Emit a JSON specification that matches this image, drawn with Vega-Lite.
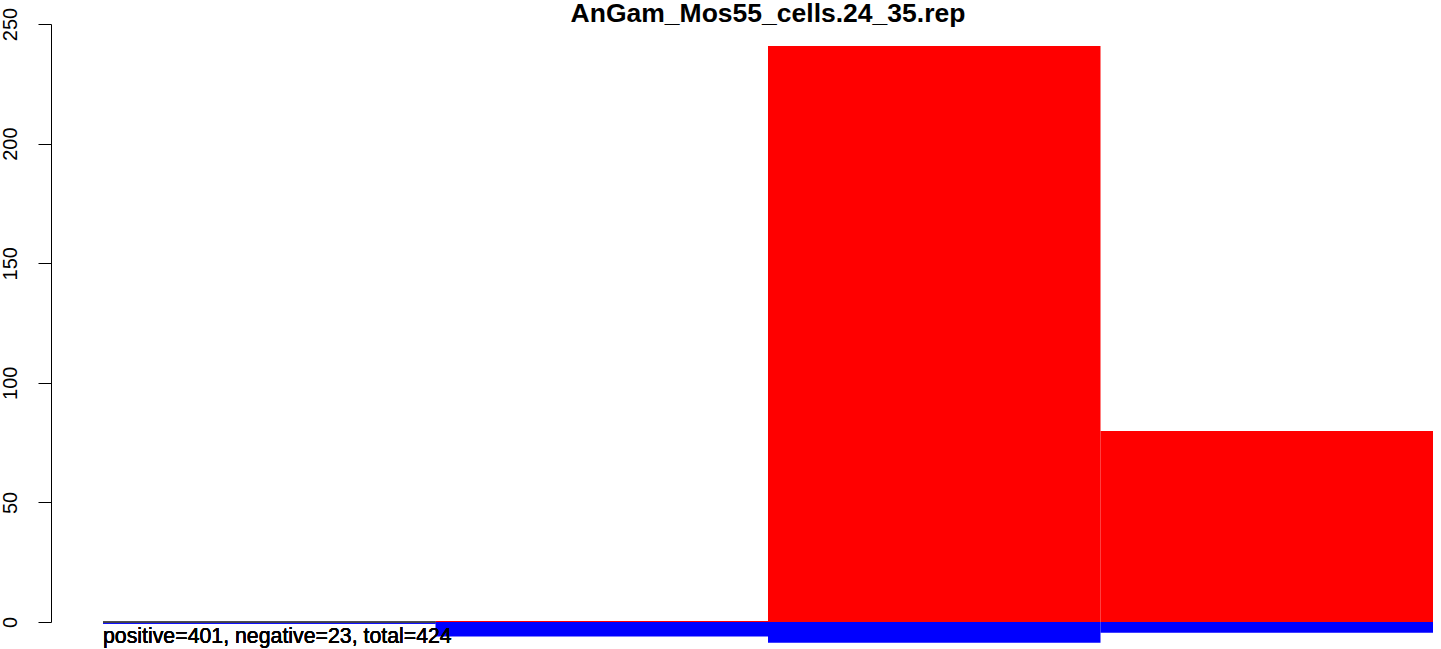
{
  "$schema": "https://vega.github.io/schema/vega-lite/v6.json",
  "autosize": "none",
  "padding": {"left": 51, "top": 24, "right": 8, "bottom": 27},
  "width": 1382,
  "height": 598,
  "background": "white",
  "config": {"view": {"stroke": null}, "font": "Liberation Sans"},
  "title": {
    "text": "AnGam_Mos55_cells.24_35.rep",
    "font": "Liberation Sans",
    "fontSize": 26.5,
    "fontWeight": "bold",
    "color": "black",
    "anchor": "middle",
    "frame": "group",
    "dx": 26,
    "baseline": "alphabetic",
    "offset": -41
  },
  "data": {
    "values": [
      {"bin": 1, "start": 0, "end": 1, "positive": 0, "negative": 0},
      {"bin": 2, "start": 1, "end": 2, "positive": 0.4, "negative": -6.1},
      {"bin": 3, "start": 2, "end": 3, "positive": 240.8, "negative": -8.65},
      {"bin": 4, "start": 3, "end": 4, "positive": 79.85, "negative": -4.47}
    ]
  },
  "layer": [
    {
      "mark": {"type": "rect", "color": "#FF0000"},
      "encoding": {
        "x": {"field": "start", "type": "quantitative", "scale": {"domain": [-0.1564, 4], "nice": false, "zero": false}, "axis": null},
        "x2": {"field": "end"},
        "y": {"field": "positive", "type": "quantitative", "scale": {"domain": [0, 250], "nice": false},
          "axis": {"values": [0, 50, 100, 150, 200, 250], "title": null, "grid": false, "domain": true, "domainColor": "black", "domainWidth": 1, "tickColor": "black", "tickSize": 13, "tickWidth": 1, "labelAngle": -90, "labelFontSize": 20, "labelColor": "black", "labelFont": "Liberation Sans", "labelPadding": 18, "labelAlign": "center", "labelBaseline": "bottom"}},
        "y2": {"datum": 0}
      }
    },
    {
      "mark": {"type": "rect", "color": "#0000FF"},
      "encoding": {
        "x": {"field": "start", "type": "quantitative"},
        "x2": {"field": "end"},
        "y": {"field": "negative", "type": "quantitative"},
        "y2": {"datum": 0}
      }
    },
    {
      "mark": {"type": "rule", "color": "#0000FF", "strokeWidth": 1, "yOffset": 1},
      "encoding": {
        "x": {"datum": 0, "type": "quantitative"},
        "x2": {"datum": 1},
        "y": {"datum": 0, "type": "quantitative"}
      }
    },
    {
      "mark": {"type": "rule", "color": "#444444", "strokeWidth": 1},
      "encoding": {
        "x": {"datum": 0, "type": "quantitative"},
        "x2": {"datum": 1},
        "y": {"datum": 0, "type": "quantitative"}
      }
    },
    {
      "mark": {"type": "text", "text": "positive=401, negative=23, total=424", "align": "left", "baseline": "alphabetic", "fontSize": 21.3, "fontWeight": "normal", "font": "Liberation Sans", "color": "black"},
      "encoding": {
        "x": {"datum": 0, "type": "quantitative"},
        "y": {"datum": -8.8, "type": "quantitative"}
      }
    }
  ]
}
